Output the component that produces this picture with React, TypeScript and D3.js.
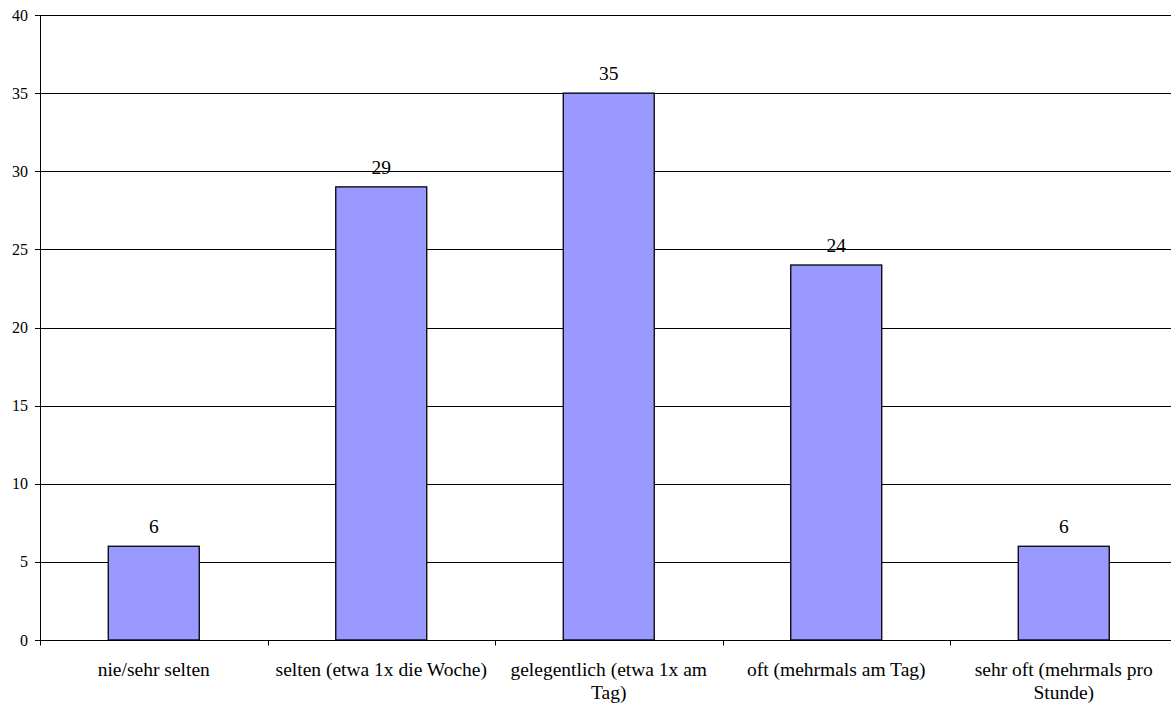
import React, { useEffect, useRef } from "react";
import * as d3 from "d3";

const categories = [
  "nie/sehr selten",
  "selten (etwa 1x die Woche)",
  "gelegentlich (etwa 1x am Tag)",
  "oft (mehrmals am Tag)",
  "sehr oft (mehrmals pro Stunde)",
];
const values = [6, 29, 35, 24, 6];
const yTicks = [0, 5, 10, 15, 20, 25, 30, 35, 40];

const W = 1171;
const H = 704;
const M = { left: 40, top: 15, bottom: 64 };
const plotRight = 1177.5;
const FONT = '"Liberation Serif", "Times New Roman", Times, serif';

export default function App() {
  const ref = useRef<SVGSVGElement>(null);

  useEffect(() => {
    const svg = d3.select(ref.current);
    svg.selectAll("*").remove();

    const x = d3.scaleBand<string>().domain(categories).range([M.left, plotRight]);
    const y = d3.scaleLinear().domain([0, 40]).range([H - M.bottom, M.top]);
    const barW = x.bandwidth() * 0.4;

    // horizontal gridlines
    svg
      .append("g")
      .selectAll("line")
      .data(yTicks)
      .join("line")
      .attr("x1", M.left)
      .attr("x2", plotRight)
      .attr("y1", (d) => Math.round(y(d)) + 0.5)
      .attr("y2", (d) => Math.round(y(d)) + 0.5)
      .attr("stroke", "#000")
      .attr("stroke-width", 1);

    // bars
    svg
      .append("g")
      .selectAll("rect")
      .data(values)
      .join("rect")
      .attr("x", (d, i) => x(categories[i])! + x.bandwidth() / 2 - barW / 2)
      .attr("y", (d) => y(d))
      .attr("width", barW)
      .attr("height", (d) => y(0) - y(d))
      .attr("fill", "#9999ff")
      .attr("stroke", "#000")
      .attr("stroke-width", 1.3);

    // value labels
    svg
      .append("g")
      .selectAll("text")
      .data(values)
      .join("text")
      .attr("x", (d, i) => x(categories[i])! + x.bandwidth() / 2)
      .attr("y", (d) => y(d) - 13)
      .attr("text-anchor", "middle")
      .style("font-family", FONT)
      .style("font-size", "19.5px")
      .text((d) => d);

    // y axis
    const yAxisX = M.left + 0.5;
    svg
      .append("line")
      .attr("x1", yAxisX)
      .attr("x2", yAxisX)
      .attr("y1", y(40))
      .attr("y2", y(0))
      .attr("stroke", "#000");
    const yg = svg.append("g");
    yg.selectAll("line")
      .data(yTicks)
      .join("line")
      .attr("x1", M.left - 5)
      .attr("x2", M.left)
      .attr("y1", (d) => Math.round(y(d)) + 0.5)
      .attr("y2", (d) => Math.round(y(d)) + 0.5)
      .attr("stroke", "#000");
    yg.selectAll("text")
      .data(yTicks)
      .join("text")
      .attr("x", M.left - 12)
      .attr("y", (d) => y(d))
      .attr("dy", "0.35em")
      .attr("text-anchor", "end")
      .style("font-family", FONT)
      .style("font-size", "16px")
      .text((d) => d);

    // x axis baseline and ticks at band boundaries
    const base = Math.round(y(0)) + 0.5;
    svg
      .append("line")
      .attr("x1", M.left)
      .attr("x2", plotRight)
      .attr("y1", base)
      .attr("y2", base)
      .attr("stroke", "#000");
    const bounds = categories.map((c) => x(c)!).concat([plotRight]);
    svg
      .append("g")
      .selectAll("line")
      .data(bounds)
      .join("line")
      .attr("x1", (d) => Math.round(d) + 0.5)
      .attr("x2", (d) => Math.round(d) + 0.5)
      .attr("y1", base)
      .attr("y2", base + 5)
      .attr("stroke", "#000");

    // category labels, wrapped to the band width
    const xl = svg.append("g");
    categories.forEach((c) => {
      const cx = x(c)! + x.bandwidth() / 2;
      const t = xl
        .append("text")
        .attr("x", cx)
        .attr("y", 676)
        .attr("text-anchor", "middle")
        .style("font-family", FONT)
        .style("font-size", "19.5px");
      const words = c.split(" ");
      let line: string[] = [];
      let tspan = t.append("tspan").attr("x", cx).attr("dy", 0);
      for (const w of words) {
        line.push(w);
        tspan.text(line.join(" "));
        if ((tspan.node() as SVGTSpanElement).getComputedTextLength() > x.bandwidth() - 2 && line.length > 1) {
          line.pop();
          tspan.text(line.join(" "));
          line = [w];
          tspan = t.append("tspan").attr("x", cx).attr("dy", 23).text(w);
        }
      }
    });
  }, []);

  return (
    <svg
      ref={ref}
      width={W}
      height={H}
      style={{ position: "absolute", left: 0, top: 0, background: "#fff" }}
    />
  );
}
